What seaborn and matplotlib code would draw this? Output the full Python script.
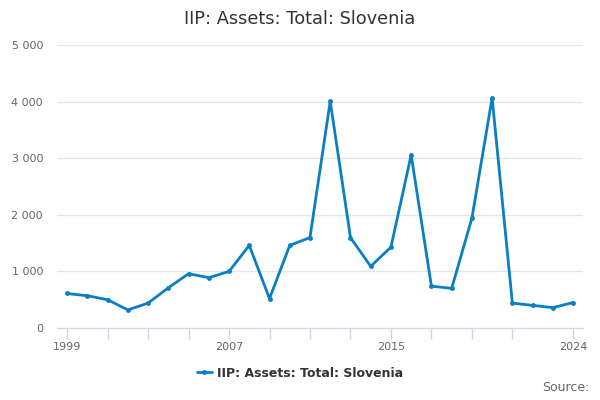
import matplotlib
matplotlib.use('Agg')
import matplotlib.pyplot as plt
import seaborn as sns
import pandas as pd

# values
years = list(range(1999, 2025))
assets = [610, 570, 500, 320, 440, 710, 960, 890, 1000, 1460, 520, 1460, 1600,
          4010, 1600, 1090, 1430, 3060, 740, 700, 1940, 4070, 440, 400, 360, 450]
series_name = 'IIP: Assets: Total: Slovenia'
tick_years = [1999, 2001, 2003, 2005, 2007, 2009, 2011, 2013, 2015, 2017, 2019, 2021, 2024]
label_years = [1999, 2007, 2015, 2024]
y_ticks = [0, 1000, 2000, 3000, 4000, 5000]

df = pd.DataFrame({'year': years, 'value': assets})

sns.set_style('white')
plt.rcParams['font.family'] = ['DejaVu Sans']

fig = plt.figure(figsize=(6, 4), dpi=100)
ax = fig.add_axes([0.095, 0.18, 0.877, 0.707])

sns.lineplot(data=df, x='year', y='value', ax=ax, color='#0a7fc2', linewidth=2,
             marker='o', markersize=3.5, markeredgewidth=0, label=series_name)

ax.set_ylim(0, 5000)
ax.set_xlim(1998.5, 2024.5)
ax.set_yticks(y_ticks)
ax.set_yticklabels([f'{v:,}'.replace(',', ' ') for v in y_ticks],
                   color='#666666', fontsize=8)
ax.set_xticks(tick_years)
ax.set_xticklabels([str(y) if y in label_years else '' for y in tick_years],
                   color='#666666', fontsize=8)
ax.tick_params(axis='x', bottom=True, length=8, color='#ccd6eb', width=1, pad=2)
ax.tick_params(axis='y', left=False, length=0, pad=10)
ax.grid(axis='y', color='#e6e6e6', linewidth=1)
ax.set_axisbelow(True)
for s in ['top', 'right', 'left']:
    ax.spines[s].set_visible(False)
ax.spines['bottom'].set_color('#ccd6eb')
ax.set_xlabel('')
ax.set_ylabel('')

fig.suptitle('IIP: Assets: Total: Slovenia', y=0.975, fontsize=12.8, color='#333333')

ax.get_legend().remove()
handles, labels = ax.get_legend_handles_labels()
leg = fig.legend(handles, labels, loc='center', bbox_to_anchor=(0.5, 0.067), frameon=False,
                 prop={'weight': 'bold', 'size': 9}, handlelength=1.2, handletextpad=0.4)
for t in leg.get_texts():
    t.set_color('#333333')

fig.text(0.982, 0.015, 'Source:', ha='right', va='bottom', fontsize=9, color='#666666')

fig.savefig('out.png', dpi=100)
